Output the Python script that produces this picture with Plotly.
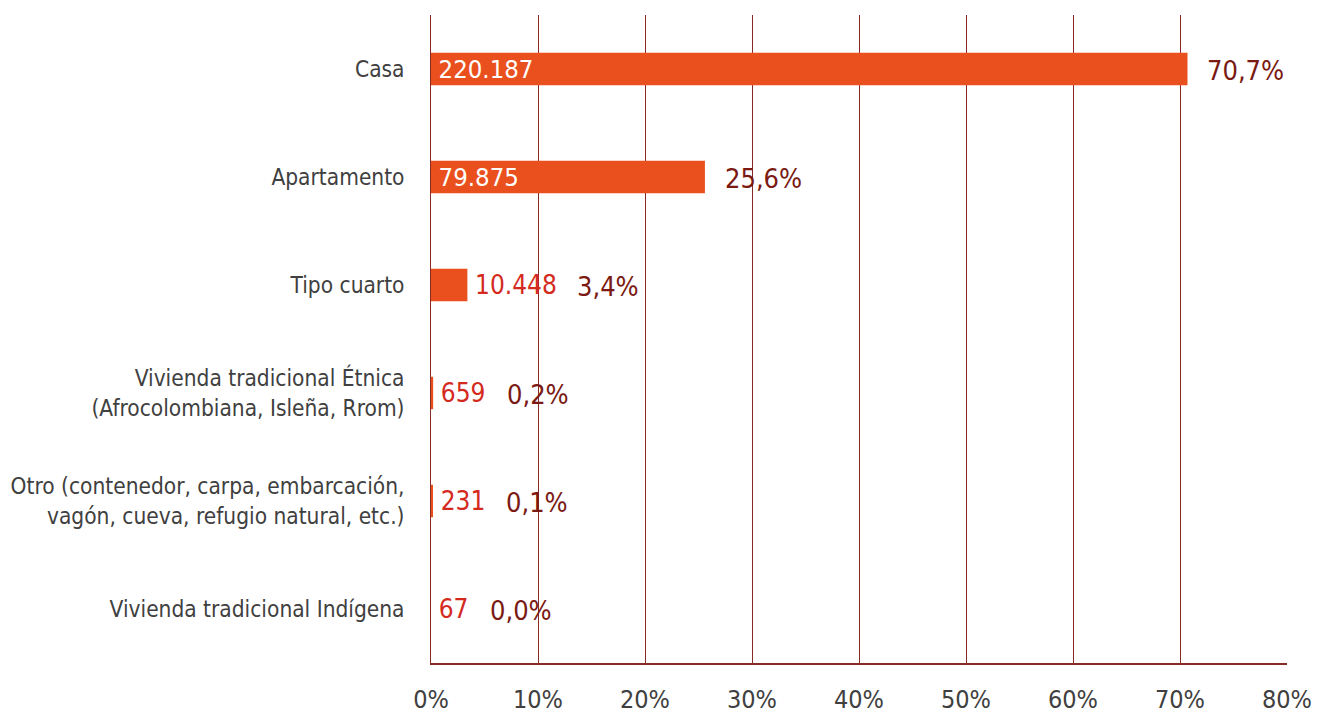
import plotly.graph_objects as go

categories = [
    "Casa",
    "Apartamento",
    "Tipo cuarto",
    "Vivienda tradicional Étnica<br>(Afrocolombiana, Isleña, Rrom)",
    "Otro (contenedor, carpa, embarcación,<br>vagón, cueva, refugio natural, etc.)",
    "Vivienda tradicional Indígena",
]
counts = [220187, 79875, 10448, 659, 231, 67]
count_labels = ["220.187", "79.875", "10.448", "659", "231", "67"]
percents = [70.7, 25.6, 3.4, 0.2, 0.1, 0.0]
pct_labels = ["70,7%", "25,6%", "3,4%", "0,2%", "0,1%", "0,0%"]
inside = [True, True, False, False, False, False]

FONT = "DejaVu Sans Condensed, Liberation Sans Narrow, Roboto, sans-serif"
BAR = "#E9501D"
RED = "#D42A1E"
DARK = "#7A1A12"
GREY = "#404040"
GRID = "#8A2A25"

OUT_SIZE = 26


def text_width(s, size):
    w = 0.0
    for ch in s:
        w += 0.27 if ch in ".," else 0.56
    return w * size


xvals = [p / 100 for p in percents]

fig = go.Figure()
fig.add_trace(go.Bar(
    y=categories,
    x=xvals,
    orientation="h",
    width=0.3,
    marker=dict(color=BAR, line=dict(width=0)),
    text=["\u2009" + c for c in count_labels],
    textposition=["inside" if i else "outside" for i in inside],
    insidetextanchor="start",
    constraintext="none",
    insidetextfont=dict(family=FONT, size=25.5, color="white"),
    outsidetextfont=dict(family=FONT, size=OUT_SIZE, color=RED),
    textangle=0,
    cliponaxis=False,
    hoverinfo="skip",
))

annotations = []
for cat, xv, lab, cl, ins in zip(categories, xvals, pct_labels, count_labels, inside):
    shift = 18 if ins else 13 + text_width(cl, OUT_SIZE) + 15
    annotations.append(dict(
        x=xv, y=cat, xref="x", yref="y", text=lab, showarrow=False,
        xanchor="left", yanchor="middle", xshift=shift, yshift=-1,
        font=dict(family=FONT, size=27, color=DARK),
    ))

fig.update_layout(
    width=1320, height=715,
    margin=dict(l=431, r=33, t=15, b=52),
    plot_bgcolor="white", paper_bgcolor="white",
    showlegend=False,
    bargap=0.7,
    annotations=annotations,
    xaxis=dict(
        range=[0, 0.8], tickvals=[i / 10 for i in range(9)],
        ticktext=[f"{i*10}%" for i in range(9)],
        showgrid=True, gridcolor=GRID, gridwidth=1,
        showline=True, linecolor=GRID, linewidth=2,
        zeroline=False, ticks="", ticklen=0,
        tickfont=dict(family=FONT, size=25, color=GREY),
        automargin=False, ticklabelstandoff=13,
        fixedrange=True,
    ),
    yaxis=dict(
        categoryorder="array", categoryarray=categories[::-1],
        showgrid=False, showline=True, linecolor=GRID, linewidth=1,
        zeroline=False, ticks="", ticklen=0,
        tickfont=dict(family=FONT, size=22.5, color=GREY),
        automargin=False, ticklabelstandoff=21,
        fixedrange=True,
    ),
    font=dict(family=FONT),
)

fig.write_html(
    "out.html",
    config={"displayModeBar": False},
    post_script="document.body.style.margin='0';document.body.style.overflow='hidden';",
)
